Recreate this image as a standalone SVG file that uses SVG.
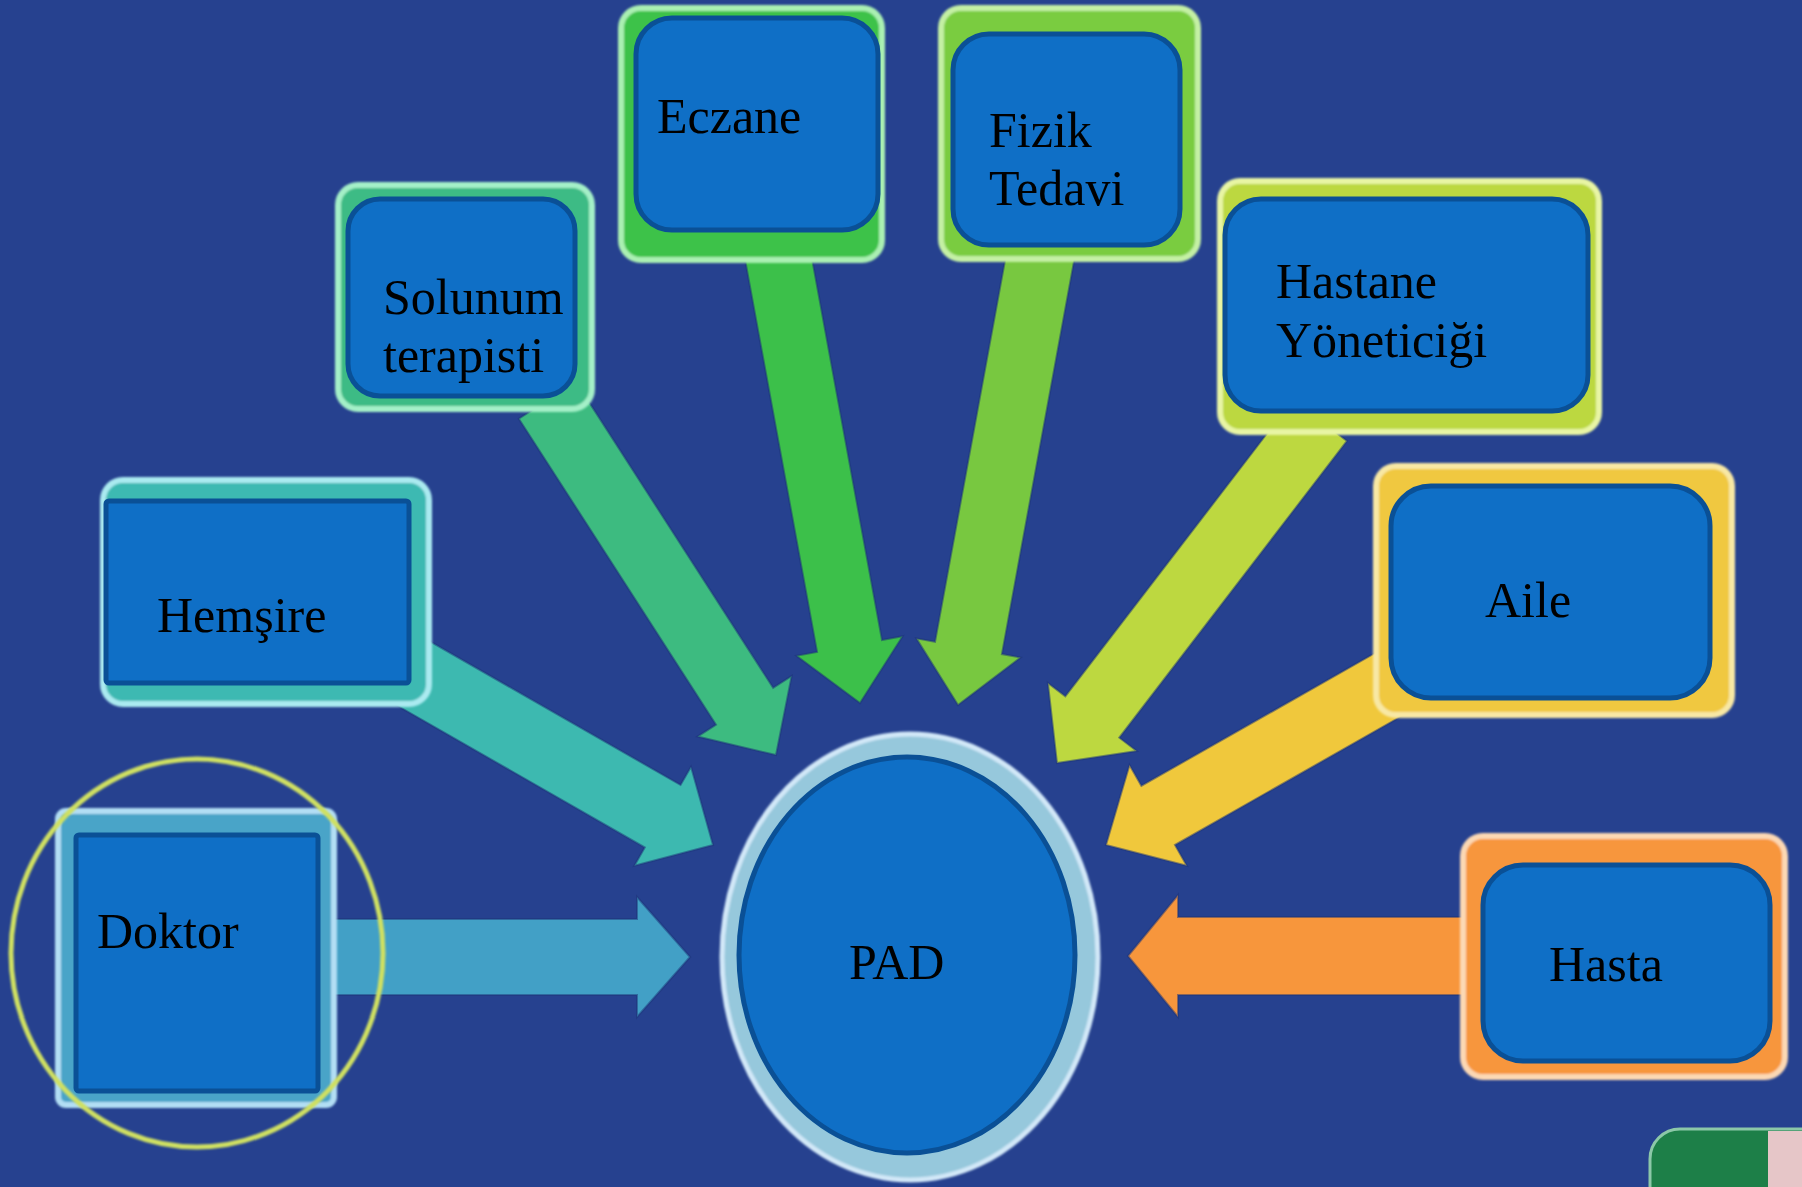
<svg xmlns="http://www.w3.org/2000/svg" width="1802" height="1187" viewBox="0 0 1802 1187">
<defs>
<filter id="soft" x="-5%" y="-5%" width="110%" height="110%"><feGaussianBlur stdDeviation="1.3"/></filter>
<filter id="shade" x="-10%" y="-10%" width="120%" height="120%"><feGaussianBlur stdDeviation="1"/></filter>
</defs>
<style>
.bg{fill:#26418f}
.box{fill:#0f6fc6;stroke:#0a5096;stroke-width:5}
.frame{stroke-width:6}
.lbl{font-family:"Liberation Serif","Times New Roman",serif;font-size:50px;fill:#000}
.arrow{stroke:#1c3478;stroke-width:2;stroke-opacity:0.5}
</style>
<rect class="bg" x="0" y="0" width="1802" height="1187"/>

<g id="connectors">
<polygon class="arrow" fill="#42a0c6" transform="translate(690,957)" points="-360,-38 -53,-38 -53,-60 0,0 -53,60 -53,38 -360,38"/>
<polygon class="arrow" fill="#3db9b0" transform="translate(713,845) rotate(29.8)" points="-360,-36 -58,-36 -58,-57 0,0 -58,57 -58,36 -360,36"/>
<polygon class="arrow" fill="#3dbb80" transform="translate(776,755) rotate(57.2)" points="-422,-34 -58,-34 -58,-56 0,0 -58,56 -58,34 -422,34"/>
<polygon class="arrow" fill="#3cc04a" transform="translate(860,703) rotate(79.6)" points="-471,-33 -58,-33 -58,-54 0,0 -58,54 -58,33 -471,33"/>
<polygon class="arrow" fill="#78c840" transform="translate(958,705) rotate(100.4)" points="-473,-34 -58,-34 -58,-53 0,0 -58,53 -58,34 -473,34"/>
<polygon class="arrow" fill="#bdd840" transform="translate(1057,763) rotate(127.5)" points="-432,-34 -58,-34 -58,-56 0,0 -58,56 -58,34 -432,34"/>
<polygon class="arrow" fill="#f0c83c" transform="translate(1106,845) rotate(150.4)" points="-338,-34 -60,-34 -60,-58 0,0 -60,58 -60,34 -338,34"/>
<polygon class="arrow" fill="#f7963c" transform="translate(1128,956) rotate(180)" points="-342,-39 -50,-39 -50,-61 0,0 -50,61 -50,39 -342,39"/>
</g>

<g id="node-doktor">
<rect class="frame" x="58" y="811" width="276" height="294" rx="8" fill="#4aa4c8" stroke="#b2def4" filter="url(#soft)"/>
<rect class="box" x="76" y="835" width="242" height="256" rx="3"/>
<text class="lbl" x="97" y="948">Doktor</text>
</g>

<g id="node-hemsire">
<rect class="frame" x="103" y="480" width="326" height="224" rx="20" fill="#3eb9b2" stroke="#aaeaf0" filter="url(#soft)"/>
<rect class="box" x="106" y="501" width="303" height="182" rx="3"/>
<text class="lbl" x="157" y="632">Hemşire</text>
</g>

<g id="node-solunum">
<rect class="frame" x="338" y="185" width="254" height="224" rx="20" fill="#3dbb85" stroke="#a4f0c8" filter="url(#soft)"/>
<rect class="box" x="348" y="199" width="227" height="197" rx="32"/>
<text class="lbl" x="383" y="314">Solunum</text>
<text class="lbl" x="383" y="372">terapisti</text>
</g>

<g id="node-eczane">
<rect class="frame" x="621" y="8" width="261" height="252" rx="20" fill="#3cc24a" stroke="#aaf0b2" filter="url(#soft)"/>
<rect class="box" x="636" y="18" width="242" height="212" rx="36"/>
<text class="lbl" x="657" y="133">Eczane</text>
</g>

<g id="node-fizik">
<rect class="frame" x="941" y="8" width="257" height="251" rx="20" fill="#7acc40" stroke="#c4f0a4" filter="url(#soft)"/>
<rect class="box" x="953" y="34" width="227" height="211" rx="36"/>
<text class="lbl" x="989" y="147">Fizik</text>
<text class="lbl" x="989" y="205">Tedavi</text>
</g>

<g id="node-hastane">
<rect class="frame" x="1220" y="181" width="379" height="251" rx="20" fill="#bcd840" stroke="#e8f5a4" filter="url(#soft)"/>
<rect class="box" x="1225" y="199" width="363" height="212" rx="36"/>
<text class="lbl" x="1276" y="298">Hastane</text>
<text class="lbl" x="1276" y="357">Yöneticiği</text>
</g>

<g id="node-aile">
<rect class="frame" x="1376" y="466" width="356" height="249" rx="20" fill="#f0c840" stroke="#f8e8a4" filter="url(#soft)"/>
<rect class="box" x="1391" y="486" width="319" height="212" rx="40"/>
<text class="lbl" x="1485" y="617">Aile</text>
</g>

<g id="node-hasta">
<rect class="frame" x="1463" y="836" width="322" height="241" rx="20" fill="#f7963c" stroke="#fcd8b4" filter="url(#soft)"/>
<rect class="box" x="1483" y="865" width="287" height="196" rx="40"/>
<text class="lbl" x="1549" y="981">Hasta</text>
</g>

<g id="node-pad">
<ellipse cx="910" cy="957" rx="188" ry="223" fill="#96c8dc" stroke="#d2e8f8" stroke-width="5" filter="url(#soft)"/>
<ellipse class="box" cx="907" cy="955" rx="168" ry="198"/>
<text class="lbl" x="849" y="979" font-size="48">PAD</text>
</g>

<g id="highlight-circle">
<ellipse cx="197" cy="953" rx="186" ry="194" fill="none" stroke="#cfe062" stroke-width="5" filter="url(#shade)"/>
</g>

<g id="corner-fragment">
<rect x="1650" y="1129" width="200" height="100" rx="30" fill="#1d7f48" stroke="#8cc8a8" stroke-width="3"/>
<rect x="1768" y="1131" width="34" height="60" fill="#e6c6c8"/>
</g>
</svg>
